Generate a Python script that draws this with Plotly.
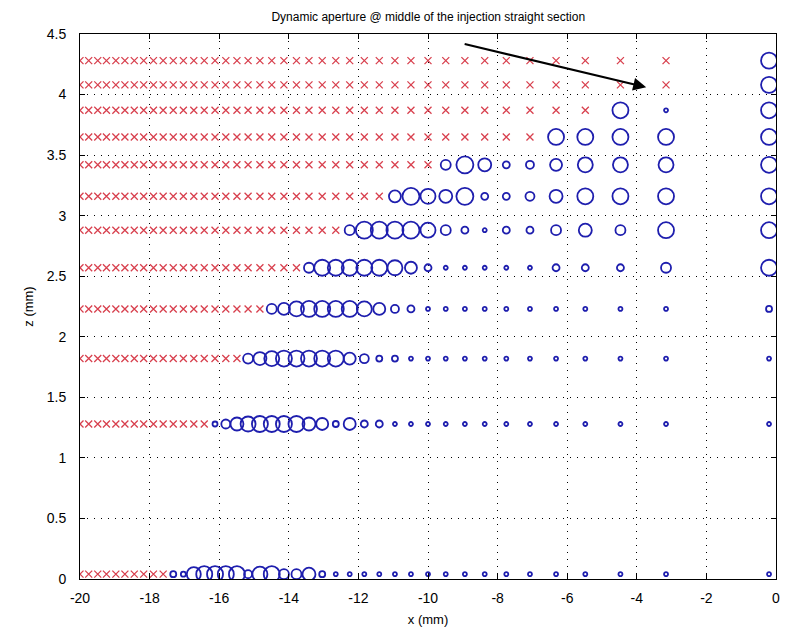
import plotly.graph_objects as go

# Column x positions (mm), index 0 = rightmost column near x = 0
x_cols = [-0.2, -3.16, -4.47, -5.48, -6.32, -7.07, -7.75, -8.37, -8.94, -9.49,
          -10.0, -10.49, -10.95, -11.40, -11.83, -12.25, -12.65, -13.04, -13.42, -13.78,
          -14.14, -14.49, -14.83, -15.17, -15.49, -15.81, -16.12, -16.43, -16.73, -17.03,
          -17.32, -17.61, -17.89, -18.17, -18.44, -18.71, -18.97, -19.24, -19.49, -19.75,
          -20.0]

# Row z positions (mm)
z_rows = [0.04, 1.28, 1.82, 2.23, 2.57, 2.88, 3.16, 3.42, 3.65, 3.87, 4.08, 4.28]

# Marker size of surviving particles for each row, from column 0 outward;
# columns beyond the list are lost particles (red crosses)
survivor_sizes = [
    [4, 4, 4, 4, 4, 4, 4, 4, 4, 4, 4, 4, 4, 4, 4, 4, 4, 6, 13, 10, 10, 16, 15, 8, 16, 16, 16, 16, 14, 5, 6],
    [4, 4, 4, 4, 4, 4, 4, 4, 4, 4, 4, 4, 4, 7, 7, 12, 6, 12, 13, 16, 16, 16, 16, 15, 13, 9, 5],
    [4, 4, 4, 4, 4, 4, 4, 4, 4, 4, 4, 4, 6, 6, 9, 12, 16, 16, 16, 16, 16, 15, 13, 10],
    [6, 4, 4, 4, 4, 4, 4, 4, 4, 4, 4, 7, 8, 12, 15, 16, 16, 16, 16, 15, 12, 10],
    [16, 10, 7, 7, 7, 4, 4, 4, 4, 4, 7, 12, 15, 16, 16, 16, 16, 16, 10],
    [16, 16, 10, 13, 10, 7, 7, 4, 7, 10, 15, 17, 17, 17, 17, 10],
    [16, 16, 16, 16, 13, 9, 7, 7, 17, 13, 15, 17, 12],
    [16, 15, 15, 15, 12, 8, 7, 13, 17, 10],
    [16, 16, 16, 16, 16],
    [16, 4, 16],
    [16],
    [16],
]

title_text = "Dynamic aperture @ middle of the injection straight section"
x_ticks = [-20, -18, -16, -14, -12, -10, -8, -6, -4, -2, 0]
y_ticks = [0, 0.5, 1, 1.5, 2, 2.5, 3, 3.5, 4, 4.5]
y_tick_text = ["0", "0.5", "1", "1.5", "2", "2.5", "3", "3.5", "4", "4.5"]
arrow_tail = [-8.99, 4.42]
arrow_head = [-3.73, 4.06]

lost_x, lost_z = [], []
ok_x, ok_z, ok_s = [], [], []
for z, sizes in zip(z_rows, survivor_sizes):
    for k, x in enumerate(x_cols):
        if k < len(sizes):
            ok_x.append(x)
            ok_z.append(z)
            ok_s.append(sizes[k])
        else:
            lost_x.append(x)
            lost_z.append(z)

fig = go.Figure()
fig.add_trace(go.Scatter(
    x=lost_x, y=lost_z, mode="markers",
    marker=dict(symbol="x-thin-open", size=7, color="#d8404e", opacity=1,
                line=dict(color="#d8404e", width=1.3)),
    showlegend=False, hoverinfo="skip"))
fig.add_trace(go.Scatter(
    x=ok_x, y=ok_z, mode="markers",
    marker=dict(symbol="circle-open", size=ok_s, color="#1e1eae", opacity=1,
                line=dict(color="#1e1eae", width=1.8)),
    showlegend=False, hoverinfo="skip"))

fig.add_annotation(
    x=arrow_head[0], y=arrow_head[1], ax=arrow_tail[0], ay=arrow_tail[1],
    xref="x", yref="y", axref="x", ayref="y",
    showarrow=True, arrowhead=2, arrowsize=1.3, arrowwidth=2, arrowcolor="black",
    text="")

font_family = "Liberation Sans, Arial"
axis_common = dict(
    showline=True, linecolor="black", linewidth=1, mirror="ticks",
    ticks="inside", ticklen=5, tickcolor="black",
    showgrid=True, gridcolor="black", gridwidth=1, griddash="1px,6px",
    zeroline=False,
    tickfont=dict(family=font_family, size=14, color="black"),
)

fig.update_xaxes(range=[-20, 0], tickvals=x_ticks,
                 ticktext=[str(v) for v in x_ticks],
                 ticklabelstandoff=6,
                 title=dict(text="x (mm)", standoff=10,
                            font=dict(family=font_family, size=13, color="black")),
                 **axis_common)
fig.update_yaxes(range=[0, 4.5], tickvals=y_ticks,
                 ticktext=y_tick_text,
                 ticklabelstandoff=10,
                 title=dict(text="z (mm)", standoff=10,
                            font=dict(family=font_family, size=13, color="black")),
                 **axis_common)

fig.update_layout(
    width=796, height=640,
    margin=dict(l=80, r=20, t=34, b=61),
    paper_bgcolor="white", plot_bgcolor="white",
    title=dict(text=title_text, x=0.538, xanchor="center", y=0.973, yanchor="middle",
               font=dict(family=font_family, size=12, color="black")),
)

fig.write_html("out.html")
